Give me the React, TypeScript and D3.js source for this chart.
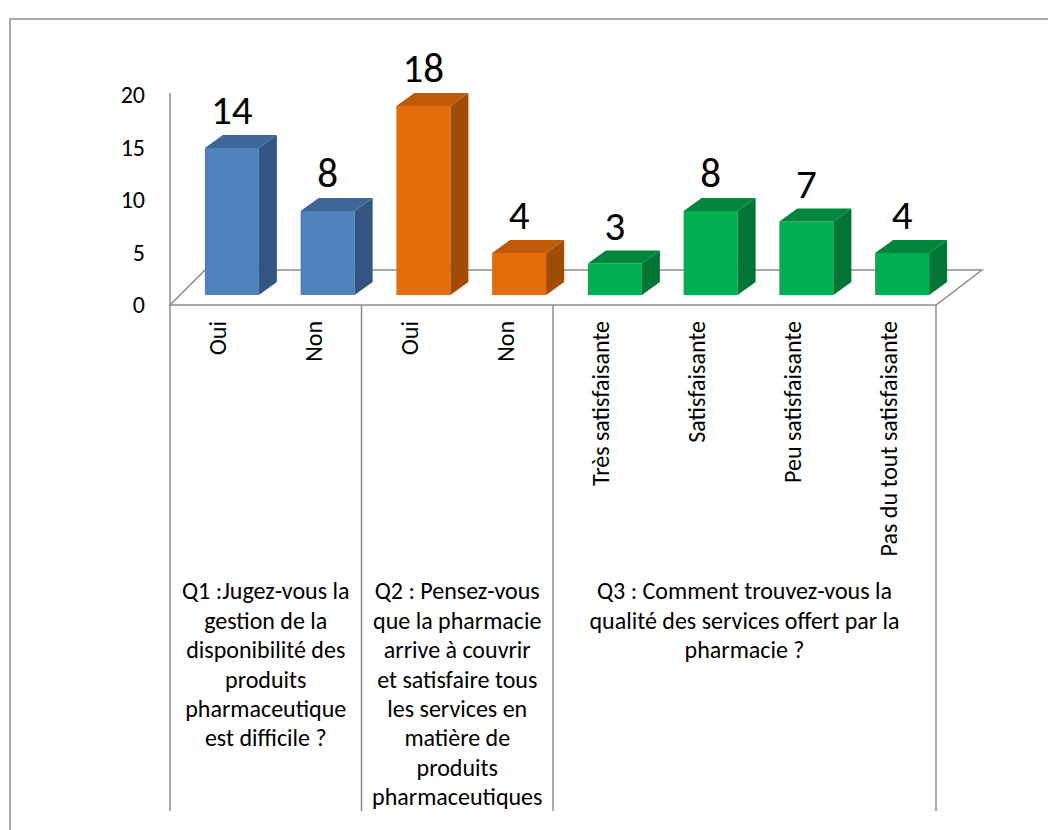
import React, { useEffect, useRef } from "react";
import * as d3 from "d3";

const categories = ["Oui", "Non", "Oui", "Non", "Très satisfaisante", "Satisfaisante", "Peu satisfaisante", "Pas du tout satisfaisante"];
const values = [14, 8, 18, 4, 3, 8, 7, 4];
const groupOf = [0, 0, 1, 1, 2, 2, 2, 2];
const groupLabels = [
  ["Q1 :Jugez-vous la", "gestion de la", "disponibilité des", "produits", "pharmaceutique", "est difficile ?"],
  ["Q2 : Pensez-vous", "que la pharmacie", "arrive à couvrir", "et satisfaire tous", "les services en", "matière de", "produits", "pharmaceutiques"],
  ["Q3 : Comment trouvez-vous la", "qualité des services offert par la", "pharmacie ?"],
];
const yTicks = [0, 5, 10, 15, 20];

// front, top, side colours per group
const palette = [
  { front: "#4F81BD", top: "#3E6699", side: "#34557F" },
  { front: "#E46C0A", top: "#BF5A08", side: "#A14C06" },
  { front: "#00B050", top: "#00873D", side: "#007534" },
];

const FONT = "Calibri, Carlito, Lato, sans-serif";

const App = () => {
  const ref = useRef<SVGGElement>(null);

  useEffect(() => {
    const g = d3.select(ref.current);
    g.selectAll("*").remove();

    const left = 170, right = 936, floorY = 305;
    const depth = 35; // floor depth offset (dx, -dy)
    const x = d3.scaleBand<number>().domain(d3.range(categories.length)).range([left, right]);
    const y = d3.scaleLinear().domain([0, 20]).range([0, 210]);
    const barW = 54, shiftX = 14, shiftY = 10, sideDx = 18, sideDy = 13;
    const grey = "#8C8C8C";

    // floor
    g.append("path")
      .attr("d", `M${left},${floorY} L${left + depth},${floorY - depth} L${right + 46},${floorY - depth} L${right},${floorY} Z`)
      .attr("fill", "none")
      .attr("stroke", grey)
      .attr("stroke-width", 1.5);

    // vertical axis line
    g.append("line")
      .attr("x1", left).attr("x2", left)
      .attr("y1", floorY - y(20) - 2).attr("y2", floorY)
      .attr("stroke", grey).attr("stroke-width", 1.5);

    // y tick labels
    g.selectAll("text.tick")
      .data(yTicks)
      .enter()
      .append("text")
      .attr("class", "tick")
      .attr("x", 145)
      .attr("y", d => floorY - y(d))
      .attr("dy", "0.35em")
      .attr("text-anchor", "end")
      .style("font-family", FONT)
      .style("font-size", "24px")
      .attr("fill", "#000")
      .text(d => d);

    // bars
    const bars = g.selectAll("g.bar")
      .data(values)
      .enter()
      .append("g")
      .attr("class", "bar");

    const bx = (i: number) => x(i)! + x.bandwidth() / 2 + shiftX - barW / 2;
    const base = floorY - shiftY;

    bars.append("rect")
      .attr("x", (d, i) => bx(i))
      .attr("y", d => base - y(d))
      .attr("width", barW)
      .attr("height", d => y(d))
      .attr("fill", (d, i) => palette[groupOf[i]].front);

    bars.append("path")
      .attr("d", (d, i) => {
        const x0 = bx(i) + barW, t = base - y(d);
        return `M${x0},${t} L${x0 + sideDx},${t - sideDy} L${x0 + sideDx},${base - sideDy} L${x0},${base} Z`;
      })
      .attr("fill", (d, i) => palette[groupOf[i]].side);

    bars.append("path")
      .attr("d", (d, i) => {
        const x0 = bx(i), t = base - y(d);
        return `M${x0},${t} L${x0 + sideDx},${t - sideDy} L${x0 + barW + sideDx},${t - sideDy} L${x0 + barW},${t} Z`;
      })
      .attr("fill", (d, i) => palette[groupOf[i]].top);

    // value labels
    bars.append("text")
      .attr("x", (d, i) => bx(i) + barW / 2)
      .attr("y", d => base - y(d) - 24)
      .attr("text-anchor", "middle")
      .style("font-family", FONT)
      .style("font-size", "41px")
      .attr("fill", "#000")
      .text(d => d);

    // category labels (rotated)
    g.selectAll("text.cat")
      .data(categories)
      .enter()
      .append("text")
      .attr("class", "cat")
      .attr("transform", (d, i) => `translate(${x(i)! + x.bandwidth() / 2},${321}) rotate(-90)`)
      .attr("dy", "0.35em")
      .attr("text-anchor", "end")
      .style("font-family", FONT)
      .style("font-size", "24px")
      .attr("fill", "#000")
      .text(d => d);

    // group boundaries
    const bounds = [0, 2, 4, 8].map(i => (i < categories.length ? x(i)! : right));
    g.selectAll("line.grp")
      .data(bounds)
      .enter()
      .append("line")
      .attr("class", "grp")
      .attr("x1", d => d).attr("x2", d => d)
      .attr("y1", floorY).attr("y2", 811)
      .attr("stroke", grey).attr("stroke-width", 1.5);

    // group labels
    groupLabels.forEach((lines, gi) => {
      const cx = (bounds[gi] + bounds[gi + 1]) / 2;
      g.append("text")
        .attr("x", cx)
        .attr("y", 591)
        .attr("text-anchor", "middle")
        .style("font-family", FONT)
        .style("font-size", "24px")
        .attr("fill", "#000")
        .selectAll("tspan")
        .data(lines)
        .enter()
        .append("tspan")
        .attr("x", cx)
        .attr("y", (d, k) => 591 + k * 29.4)
        .attr("dy", "0.35em")
        .text(d => d);
    });
  }, []);

  return (
    <svg width={1048} height={830} style={{ position: "absolute", left: 0, top: 0, background: "#fff" }}>
      <rect x={10} y={19} width={1100} height={900} fill="none" stroke="#8C8C8C" strokeWidth={1.5} />
      <g ref={ref} />
    </svg>
  );
};

export default App;
